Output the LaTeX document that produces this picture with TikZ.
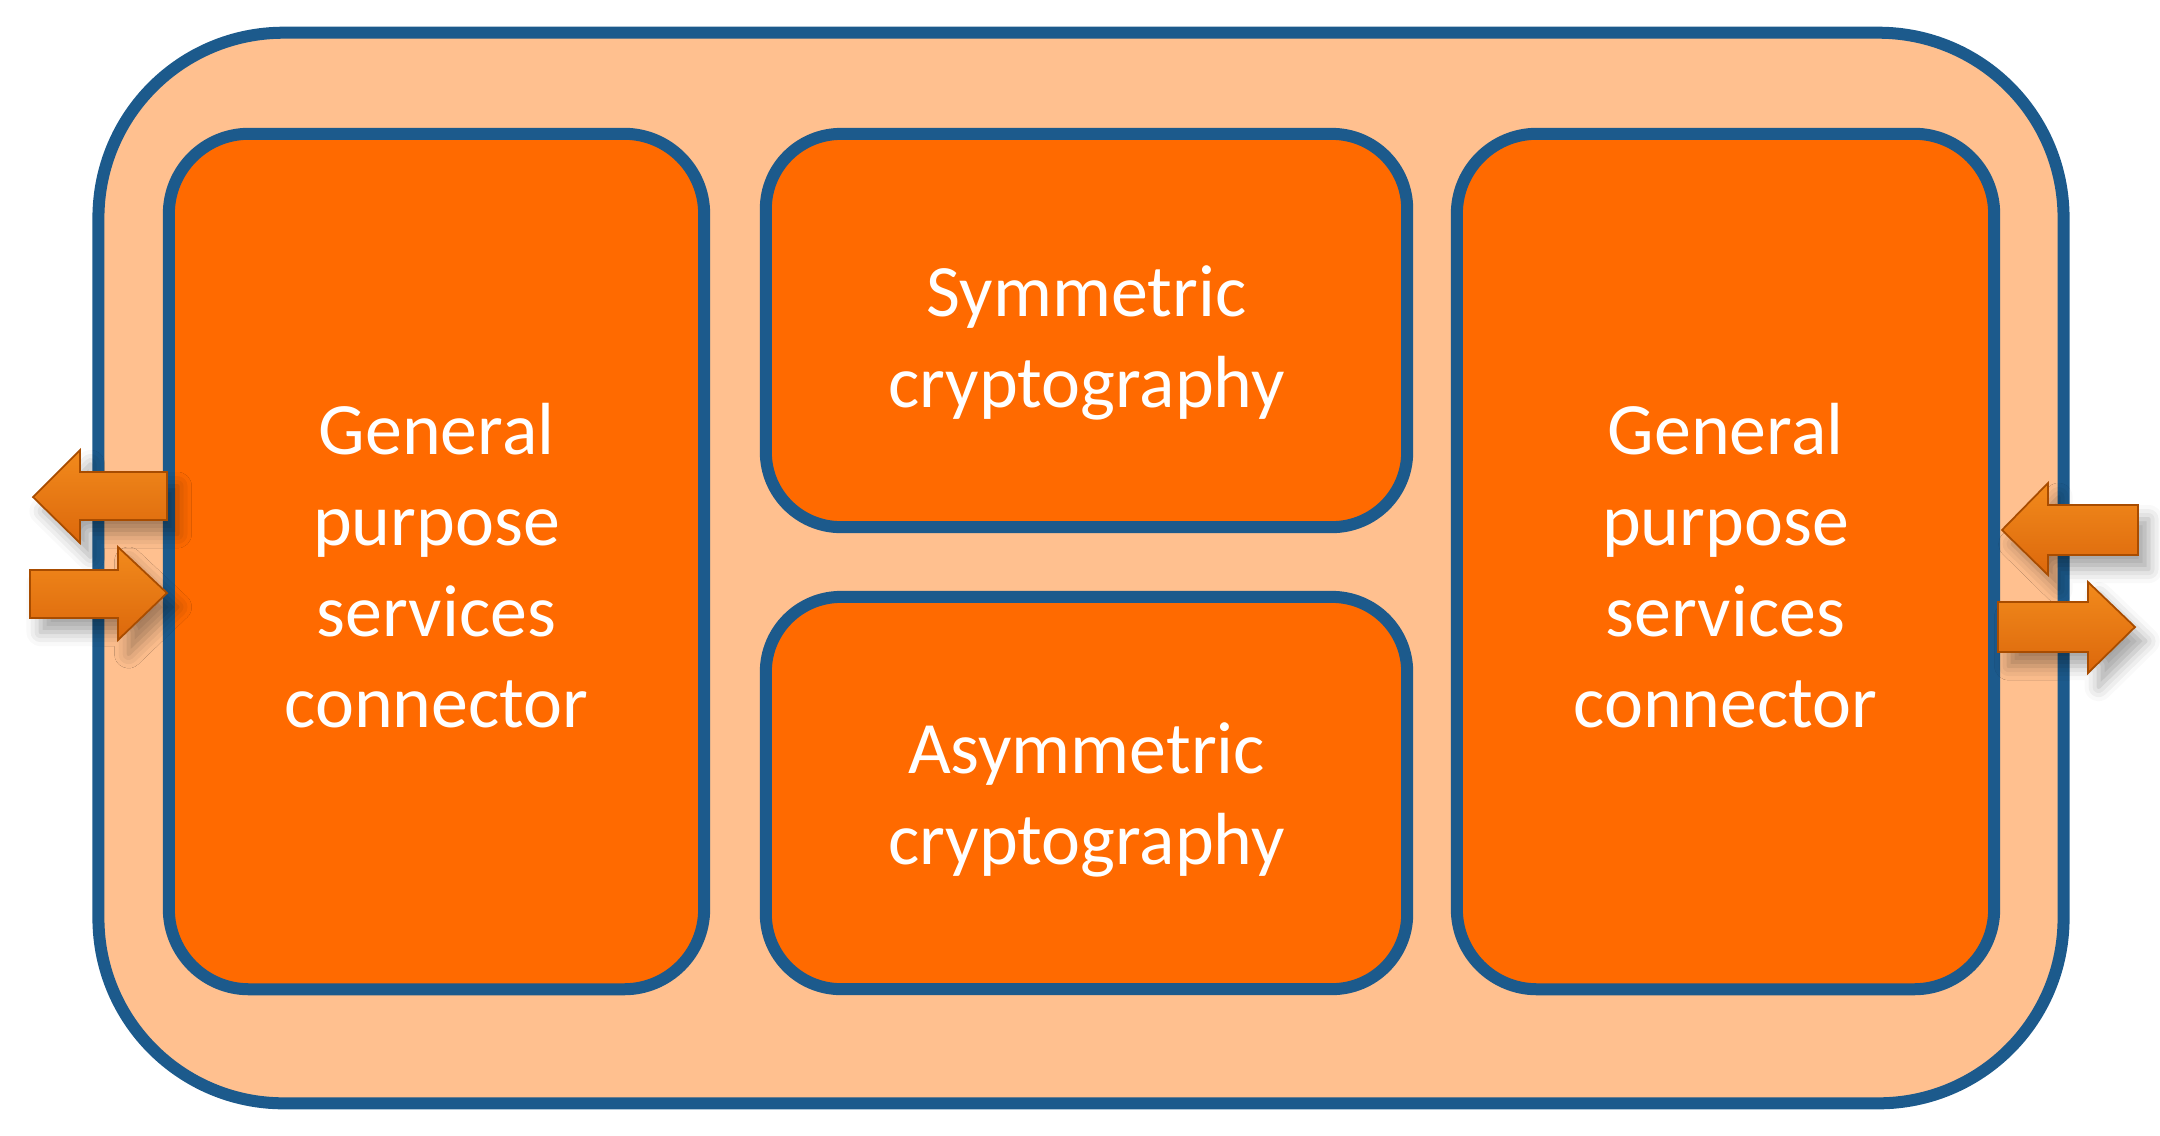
\documentclass[tikz,border=0pt]{standalone}
\usepackage{fontspec}
\setmainfont{Carlito}
\usetikzlibrary{shadows.blur}
\definecolor{boxorange}{HTML}{FF6A00}
\definecolor{peach}{HTML}{FFC08F}
\definecolor{edgeblue}{HTML}{1C5A8C}
\definecolor{arrtop}{HTML}{F28A1C}
\definecolor{arrmid}{HTML}{FFB44A}
\definecolor{arrbot}{HTML}{DC680C}
\definecolor{arredge}{HTML}{A84C00}
\tikzset{
  outerbox/.style={draw=edgeblue, line width=0.12cm, fill=peach, rounded corners=1.85cm,
    minimum width=19.64cm, minimum height=10.70cm, inner sep=0pt},
  blockbox/.style={draw=edgeblue, line width=0.12cm, fill=boxorange, rounded corners=0.75cm,
    inner sep=0pt},
  blocktext/.style={text=white, align=center, inner sep=0pt,
    font=\fontsize{21}{25.9}\selectfont},
  blockarrow/.style={draw=arredge, line width=0.5pt, line join=miter,
    top color=arrtop, middle color=arrmid, bottom color=arrbot,
    blur shadow={shadow xshift=3pt, shadow yshift=-4pt, shadow blur radius=4pt, shadow opacity=35}}
}
\begin{document}
\begin{tikzpicture}[x=0.01cm, y=-0.01cm]
\useasboundingbox (0,0) rectangle (2160,1135);
\node[outerbox] (outer) at (1081,568) {};
\node[blockbox, rounded corners=0.8cm, minimum width=5.35cm, minimum height=8.55cm] (gpleft) at (436.5,561.5) {};
\node[blockbox, minimum width=6.41cm, minimum height=3.93cm] (sym) at (1086.5,330.5) {};
\node[blockbox, minimum width=6.41cm, minimum height=3.92cm] (asym) at (1086.5,793) {};
\node[blockbox, rounded corners=0.8cm, minimum width=5.37cm, minimum height=8.55cm] (gpright) at (1725.5,561.5) {};
\node[blocktext] (gplefttext) at ([yshift=-0.04cm]gpleft.center) {General\\purpose\\services\\connector};
\node[blocktext] (symtext) at ([yshift=-0.12cm]sym.center) {Symmetric\\cryptography};
\node[blocktext] (asymtext) at ([yshift=-0.07cm]asym.center) {Asymmetric\\cryptography};
\node[blocktext] (gprighttext) at ([yshift=-0.04cm]gpright.center) {General\\purpose\\services\\connector};
% left arrows
\path[blockarrow] (33,497) -- (80,450) -- (80,472) -- (167,472) -- (167,520) -- (80,520) -- (80,543) -- cycle;
\path[blockarrow] (167,593) -- (118,547) -- (118,570) -- (30,570) -- (30,618) -- (118,618) -- (118,640) -- cycle;
% right arrows
\path[blockarrow] (2002,530) -- (2048,483) -- (2048,505) -- (2138,505) -- (2138,555) -- (2048,555) -- (2048,575) -- cycle;
\path[blockarrow] (2135,627) -- (2088,582) -- (2088,602) -- (1998,602) -- (1998,652) -- (2088,652) -- (2088,673) -- cycle;
\end{tikzpicture}
\end{document}
